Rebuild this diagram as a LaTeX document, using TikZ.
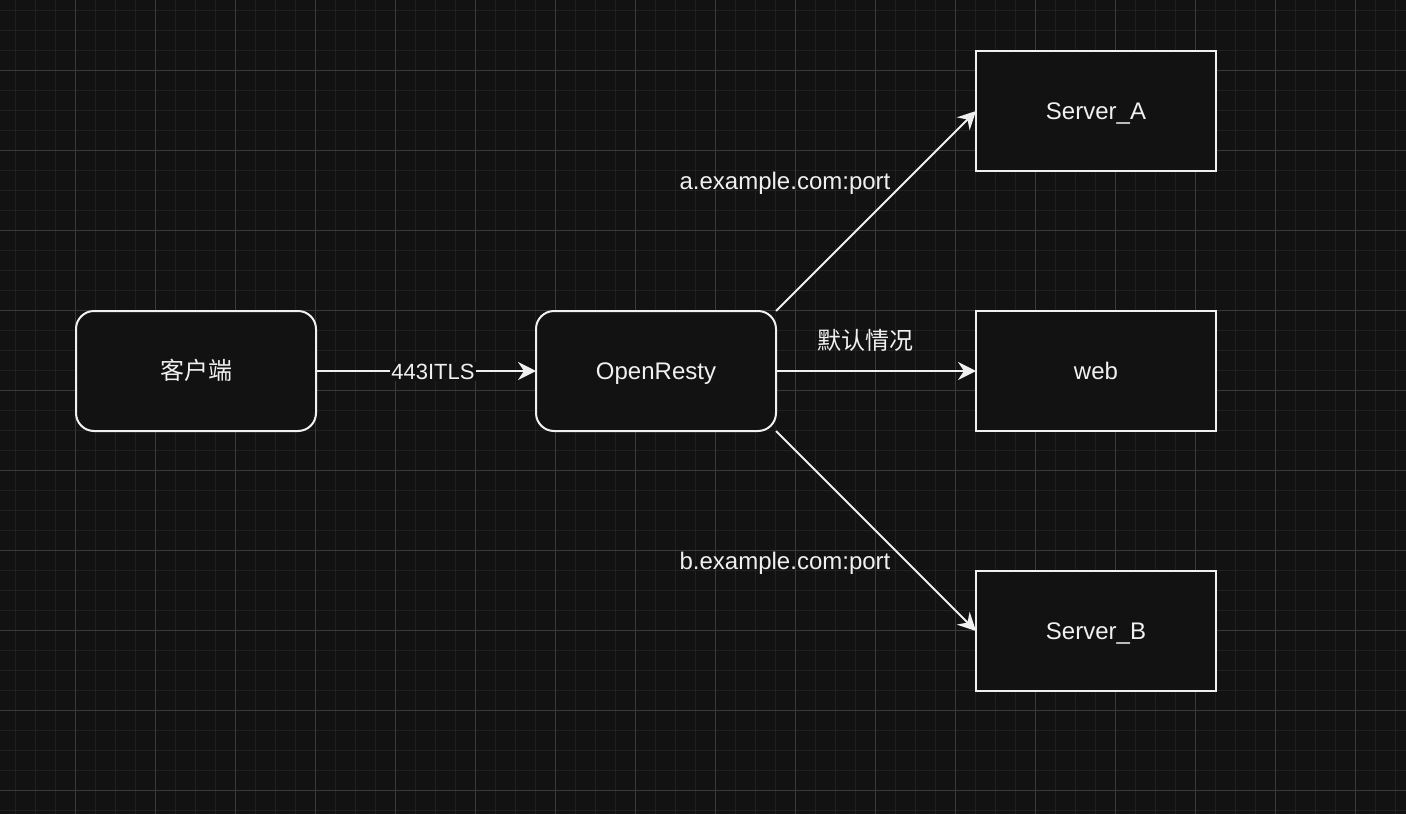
\documentclass[tikz,border=0pt]{standalone}
\usepackage{fontspec}
\setmainfont{Liberation Sans}
\newfontfamily\cjk{Noto Sans CJK SC}
\usetikzlibrary{arrows.meta}
\definecolor{bg}{HTML}{121212}
\definecolor{minorgrid}{HTML}{202020}
\definecolor{majorgrid}{HTML}{3A3A3A}
\definecolor{fg}{HTML}{F0F0F0}
\begin{document}
\begin{tikzpicture}[x=1pt,y=-1pt,
  box/.style={draw=fg, line width=2pt, fill=bg, minimum width=240pt, minimum height=120pt,
    text=fg, font=\fontsize{24}{28}\selectfont, inner sep=0pt, outer sep=0pt,
    text height=17pt, text depth=0pt},
  rbox/.style={box, rounded corners=18pt},
  conn/.style={draw=fg, line width=2pt, -{Stealth[length=18pt,width=18pt,inset=6pt]}},
  lbl/.style={text=fg, font=\fontsize{24}{28}\selectfont, inner sep=0pt,
    text height=17pt, text depth=0pt},
  elbl/.style={text=fg, fill=bg, font=\fontsize{22}{26}\selectfont, inner sep=1.5pt,
    text height=16pt, text depth=0pt},
]
\useasboundingbox (0,0) rectangle (1406,814);
\fill[bg] (0,0) rectangle (1406,814);
\foreach \x in {15,35,...,1395} \draw[minorgrid, line width=1pt] (\x,0) -- (\x,814);
\foreach \y in {10,30,...,810} \draw[minorgrid, line width=1pt] (0,\y) -- (1406,\y);
\foreach \x in {75,155,...,1395} \draw[majorgrid, line width=1pt] (\x,0) -- (\x,814);
\foreach \y in {70,150,...,810} \draw[majorgrid, line width=1pt] (0,\y) -- (1406,\y);

\node[rbox] (client) at (196,371) {\cjk 客户端};
\node[rbox] (openresty) at (656,371) {OpenResty};
\node[box] (sa) at (1096,111) {Server\_A};
\node[box] (web) at (1096,371) {web};
\node[box] (sb) at (1096,631) {Server\_B};

\draw[conn] (client.east) -- (openresty.west) node[elbl, midway, xshift=7pt] {443ITLS};
\draw[conn] (openresty.north east) -- (sa.west);
\draw[conn] (openresty.east) -- (web.west);
\draw[conn] (openresty.south east) -- (sb.west);

\node[lbl] (la) at (785,181) {a.example.com:port};
\node[lbl] (lweb) at (865,341) {\cjk 默认情况};
\node[lbl] (lb) at (785,561) {b.example.com:port};
\end{tikzpicture}
\end{document}
